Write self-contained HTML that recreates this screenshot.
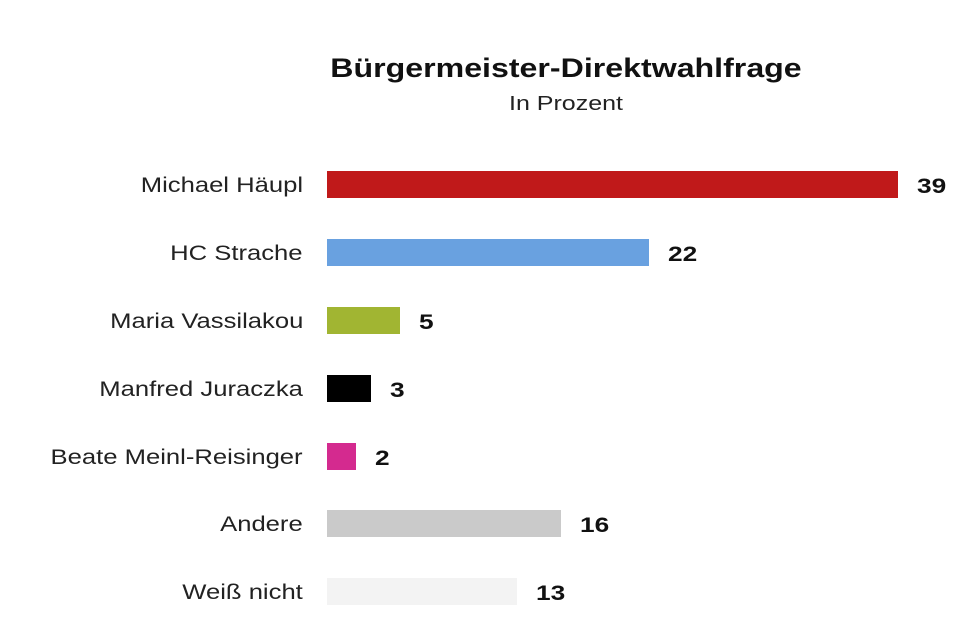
<!DOCTYPE html>
<html><head><meta charset="utf-8"><style>
body{margin:0;width:977px;height:644px;background:#fff;font-family:"Liberation Sans","DejaVu Sans",sans-serif;position:relative;overflow:hidden}
.t{position:absolute;left:266px;width:600px;text-align:center;font-weight:bold;font-size:27px;top:53px;color:#111;transform:scaleX(1.19);transform-origin:300px 0}
.s{position:absolute;left:316px;width:500px;text-align:center;font-size:20px;top:93px;color:#222;transform:scaleX(1.25);transform-origin:250px 0}
.l{position:absolute;right:674px;font-size:21px;color:#222;white-space:nowrap;transform:scaleX(1.22);transform-origin:100% 0}
.b{position:absolute;left:327px;height:27px}
.v{position:absolute;font-size:21px;font-weight:bold;color:#111;transform:scaleX(1.25);transform-origin:0 0}
</style></head><body>
<div class="t">Bürgermeister-Direktwahlfrage</div>
<div class="s">In Prozent</div>

<div class="l" style="top:174px">Michael Häupl</div>
<div class="b" style="top:171px;width:571px;background:#c0191a"></div>
<div class="v" style="top:175px;left:917px">39</div>

<div class="l" style="top:242px">HC Strache</div>
<div class="b" style="top:239px;width:322px;background:#69a1e0"></div>
<div class="v" style="top:243px;left:668px">22</div>

<div class="l" style="top:310px">Maria Vassilakou</div>
<div class="b" style="top:307px;width:73px;background:#a1b532"></div>
<div class="v" style="top:311px;left:419px">5</div>

<div class="l" style="top:378px">Manfred Juraczka</div>
<div class="b" style="top:375px;width:44px;background:#000"></div>
<div class="v" style="top:379px;left:390px">3</div>

<div class="l" style="top:446px">Beate Meinl-Reisinger</div>
<div class="b" style="top:443px;width:29px;background:#d42a8f"></div>
<div class="v" style="top:447px;left:375px">2</div>

<div class="l" style="top:513px">Andere</div>
<div class="b" style="top:510px;width:234px;background:#cacaca"></div>
<div class="v" style="top:514px;left:580px">16</div>

<div class="l" style="top:581px">Weiß nicht</div>
<div class="b" style="top:578px;width:190px;background:#f3f3f3"></div>
<div class="v" style="top:582px;left:536px">13</div>
</body></html>
